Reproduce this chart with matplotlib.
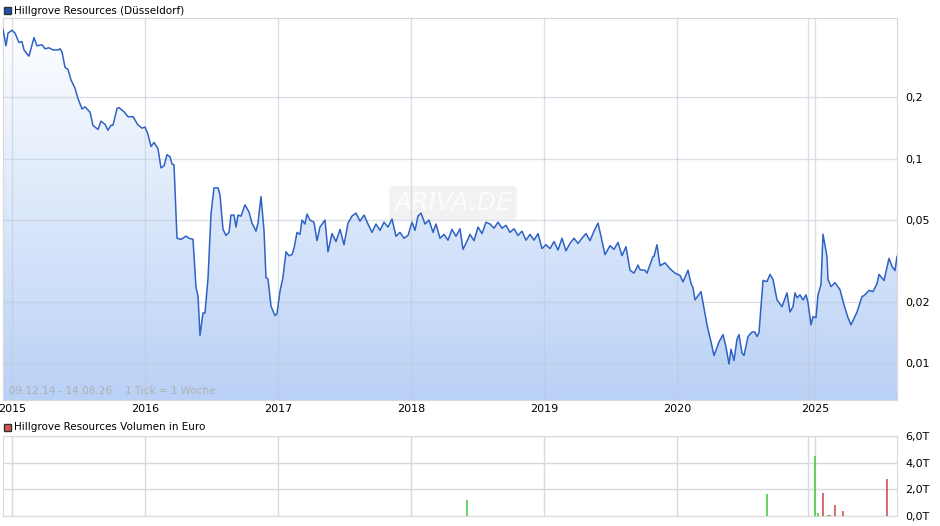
import numpy as np
import matplotlib
matplotlib.use("Agg")
import matplotlib.pyplot as plt
from matplotlib.ticker import FixedLocator, NullLocator
from matplotlib.colors import LinearSegmentedColormap

px = [3,6,8,12,15,19,22,24,28,29,34,37,42,45,49,53,58,60,62,65,68,71,75,78,82,85,90,93,98,101,105,108,111,113,117,119,124,128,133,138,142,145,148,151,154,158,161,164,167,170,172,174,177,181,186,189,193,196,198,200,203,205,208,211,214,218,220,223,226,229,231,234,236,238,241,245,249,252,256,258,261,264,266,268,271,275,277,280,283,286,289,292,294,297,300,302,305,307,310,314,317,320,325,328,332,336,340,344,348,352,356,360,364,368,372,376,380,384,388,392,396,400,404,408,412,415,418,421,425,429,433,436,440,444,448,452,456,460,463,466,470,474,478,482,486,490,494,498,502,506,510,514,518,522,526,530,534,538,542,546,550,554,558,562,566,570,574,578,582,586,590,594,598,601,605,610,614,618,622,626,630,634,638,640,645,647,653,654,657,660,665,670,675,680,683,688,691,693,695,701,707,711,714,719,723,726,729,731,734,737,739,742,744,748,752,755,757,759,763,767,770,773,777,782,787,790,793,795,797,800,803,806,808,811,813,816,818,821,823,827,828,831,835,840,844,848,851,857,862,864,869,873,877,879,884,889,892,895,897]
price = [0.4300,0.3581,0.4129,0.4271,0.4129,0.3714,0.3756,0.3418,0.3225,0.3189,0.3930,0.3581,0.3621,0.3463,0.3502,0.3418,0.3418,0.3463,0.3345,0.2807,0.2742,0.2437,0.2220,0.1975,0.1757,0.1799,0.1696,0.1459,0.1395,0.1531,0.1478,0.1382,0.1463,0.1463,0.1764,0.1784,0.1704,0.1609,0.1609,0.1466,0.1416,0.1432,0.1320,0.1150,0.1204,0.1122,0.0904,0.0925,0.1049,0.1025,0.0946,0.0935,0.0409,0.0404,0.0419,0.0409,0.0404,0.0235,0.0214,0.0137,0.0176,0.0176,0.0260,0.0537,0.0722,0.0722,0.0666,0.0452,0.0422,0.0437,0.0531,0.0531,0.0464,0.0531,0.0525,0.0596,0.0550,0.0485,0.0443,0.0485,0.0654,0.0447,0.0262,0.0259,0.0190,0.0171,0.0175,0.0225,0.0264,0.0351,0.0336,0.0340,0.0364,0.0437,0.0427,0.0502,0.0480,0.0537,0.0502,0.0490,0.0398,0.0464,0.0502,0.0351,0.0431,0.0394,0.0452,0.0380,0.0485,0.0525,0.0543,0.0496,0.0531,0.0480,0.0437,0.0480,0.0447,0.0490,0.0464,0.0508,0.0418,0.0437,0.0409,0.0422,0.0490,0.0447,0.0525,0.0543,0.0480,0.0502,0.0437,0.0480,0.0409,0.0427,0.0400,0.0452,0.0418,0.0455,0.0361,0.0386,0.0427,0.0398,0.0464,0.0431,0.0490,0.0480,0.0458,0.0490,0.0458,0.0473,0.0437,0.0455,0.0422,0.0443,0.0400,0.0427,0.0400,0.0431,0.0364,0.0380,0.0364,0.0394,0.0358,0.0409,0.0355,0.0386,0.0409,0.0386,0.0409,0.0431,0.0398,0.0443,0.0485,0.0418,0.0340,0.0376,0.0361,0.0390,0.0336,0.0372,0.0285,0.0276,0.0302,0.0287,0.0285,0.0276,0.0333,0.0333,0.0380,0.0300,0.0310,0.0290,0.0276,0.0269,0.0250,0.0285,0.0246,0.0234,
         0.0204,0.0224,0.0154,0.0127,0.0109,0.0127,0.0138,0.0120,0.0099,0.0117,0.0103,0.0131,0.0138,0.0112,0.0109,0.0135,0.0142,0.0142,0.0135,0.0141,
         0.0254,0.0251,0.0272,0.0257,0.0204,0.0189,0.0221,0.0178,0.0189,0.0221,0.0209,0.0216,0.0204,0.0216,0.0198,0.0154,0.0169,0.0167,0.0216,0.0243,
         0.0428,0.0333,0.0257,0.0237,0.0248,0.0229,0.0193,0.0167,0.0154,0.0178,0.0212,0.0214,0.0227,0.0224,0.0245,0.0272,0.0254,0.0326,0.0298,0.0284,0.0333,0.0330]
n = min(len(px), len(price))
px, price = px[:n], price[:n]
t = 2015 + (np.array(px) - 12) / 133.0

vol_px = [467, 767, 815, 818, 823, 828, 830, 835, 843, 887]
vol = [1.2, 1.65, 4.5, 0.25, 1.7, 0.08, 0.08, 0.8, 0.35, 2.8]
vol_up = [True, True, True, True, False, True, False, False, False, False]
vt = 2015 + (np.array(vol_px) - 12) / 133.0

xtick_pos = [2015, 2016, 2017, 2018, 2019, 2020, 2015 + (815 - 12) / 133.0]
xtick_lab = ["2015", "2016", "2017", "2018", "2019", "2020", "2025"]
extra_grid = [2015 + (808 - 12) / 133.0]
ytick_vals = [0.01, 0.02, 0.05, 0.1, 0.2]
ytick_lab = ["0,01", "0,02", "0,05", "0,1", "0,2"]
vtick_vals = [0, 2, 4, 6]
vtick_lab = ["0,0T", "2,0T", "4,0T", "6,0T"]

W, H = 940, 526
fig = plt.figure(figsize=(W / 100, H / 100), dpi=100)
plt.rcParams['font.family'] = ['DejaVu Sans']
GRID = '#d9d9d9'
xlo, xhi = 2015 + (3 - 12) / 133.0, 2015 + (897 - 12) / 133.0

ax = fig.add_axes([3 / W, 1 - 400 / H, 894 / W, 382 / H])
ylo, yhi = 0.0066, 0.49
ax.set_yscale('log')
ax.set_xlim(xlo, xhi)
ax.set_ylim(ylo, yhi)
grad = np.linspace(0, 1, 256).reshape(-1, 1)
cmap = LinearSegmentedColormap.from_list('g', ['#b9d1f6', '#ffffff'])
im = ax.imshow(grad, cmap=cmap, aspect='auto', extent=[0, 1, 0, 1], origin='lower',
               transform=ax.transAxes, zorder=1)
poly = ax.fill_between(t, price, ylo, color='none', zorder=1)
im.set_clip_path(poly.get_paths()[0], transform=ax.transData)
ax.set_xlim(xlo, xhi)
ax.set_ylim(ylo, yhi)
ax.plot(t, price, color='#2e62c4', lw=1.1, zorder=3)
ax.yaxis.tick_right()
ax.yaxis.set_major_locator(FixedLocator(ytick_vals))
ax.yaxis.set_minor_locator(NullLocator())
ax.set_yticklabels(ytick_lab)
ax.set_xticks(xtick_pos)
ax.set_xticklabels(xtick_lab)
ax.tick_params(length=0, labelsize=8, pad=3)
ax.tick_params(axis='y', pad=6)
ax.set_axisbelow(False)
ax.grid(True, color='#bfc8d6', lw=1, alpha=0.55)
for g in extra_grid:
    ax.axvline(g, color='#bfc8d6', lw=1, alpha=0.55, zorder=2.5)
for s in ax.spines.values():
    s.set_color(GRID)
ax.text(6 / 894, 0.01, "09.12.14 - 14.08.26    1 Tick = 1 Woche", transform=ax.transAxes,
        fontsize=7.5, color='#b0b0b0', va='bottom')
ax.text(450 / 894, 1 - (203 - 18) / 382, "ARIVA.DE", transform=ax.transAxes, fontsize=18,
        color='white', alpha=0.8, style='italic', ha='center', va='center', zorder=2,
        bbox=dict(boxstyle='round,pad=0.2', fc='#e6e6e6', ec='none', alpha=0.5))

fig.patches.append(plt.Rectangle((4 / W, 1 - 14 / H), 7 / W, 7 / H, transform=fig.transFigure,
                                 fc='#1f4fb4', ec='#333'))
fig.text(14 / W, 1 - 10.5 / H, "Hillgrove Resources (Düsseldorf)", fontsize=7.5, va='center')
fig.patches.append(plt.Rectangle((4 / W, 1 - 431 / H), 7 / W, 7 / H, transform=fig.transFigure,
                                 fc='#d9534f', ec='#333'))
fig.text(14 / W, 1 - 427.5 / H, "Hillgrove Resources Volumen in Euro", fontsize=7.5, va='center')

vx = fig.add_axes([3 / W, 1 - 516 / H, 894 / W, 80 / H])
vx.set_xlim(xlo, xhi)
vx.set_ylim(0, 6)
vx.vlines(vt, 0, vol, colors=['#4ccc4c' if u else '#cc5555' for u in vol_up], lw=1.2, zorder=3)
vx.yaxis.tick_right()
vx.set_yticks(vtick_vals)
vx.set_yticklabels(vtick_lab)
vx.set_xticks(xtick_pos)
vx.set_xticklabels([])
vx.tick_params(length=0, labelsize=8)
vx.tick_params(axis='y', pad=6)
vx.grid(True, color=GRID, lw=1, zorder=0)
for g in extra_grid:
    vx.axvline(g, color=GRID, lw=1, zorder=0)
for s in vx.spines.values():
    s.set_color(GRID)
vx.set_axisbelow(True)

fig.savefig('out.png', dpi=100)
